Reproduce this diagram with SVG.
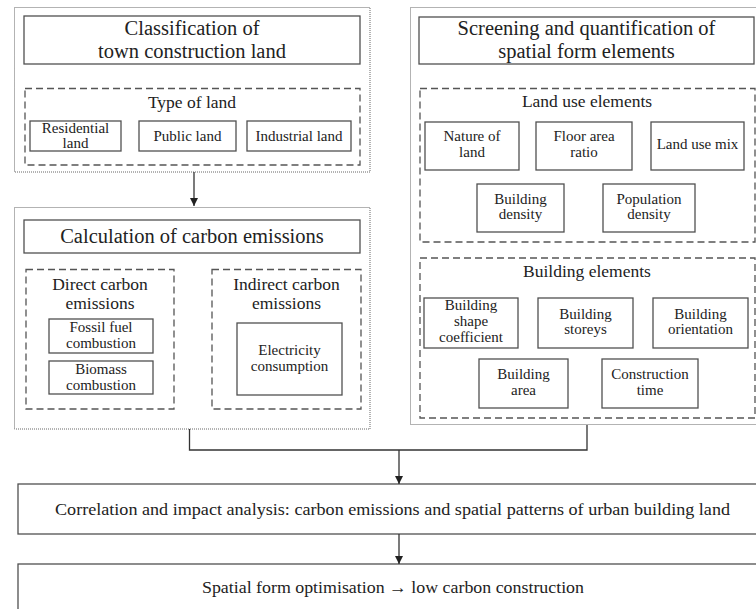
<svg xmlns="http://www.w3.org/2000/svg" width="756" height="609" viewBox="0 0 756 609" font-family="'Liberation Serif', 'DejaVu Serif', serif">
<style>
text{font-family:'Liberation Serif','DejaVu Serif',serif;fill:#222;text-anchor:middle}
.t{font-size:20.5px}
.s{font-size:17.5px}
.b{font-size:15px}
.m{font-size:17px}
.panel{fill:none;stroke:#666;stroke-width:1;stroke-dasharray:1 1}
.box{fill:#fff;stroke:#505050;stroke-width:1.3}
.dash{fill:none;stroke:#555;stroke-width:1.3;stroke-dasharray:7 4}
.conn{fill:none;stroke:#333;stroke-width:1.3}
</style>
<defs>
<marker id="ah" markerUnits="userSpaceOnUse" markerWidth="9" markerHeight="9" refX="8" refY="4" orient="auto">
<path d="M0,0 L8,4 L0,8 z" fill="#222"/>
</marker>
</defs>
<rect width="756" height="609" fill="#fff"/>

<g id="panel-classification">
<rect class="panel" x="14.5" y="7.5" width="355.5" height="164.5"/>
<g id="title-classification">
<rect class="box" x="24" y="16" width="336" height="48"/>
<text class="t" x="192" y="35">Classification of</text>
<text class="t" x="192" y="58">town construction land</text>
</g>
<g id="type-of-land">
<rect class="dash" x="25" y="88.5" width="335" height="76.5"/>
<text class="s" x="192" y="108">Type of land</text>
</g>
<g id="residential-land">
<rect class="box" x="30" y="121" width="91" height="30"/>
<text class="b" x="75.5" y="133">Residential</text>
<text class="b" x="75.5" y="148">land</text>
</g>
<g id="public-land">
<rect class="box" x="139" y="121" width="97" height="30"/>
<text class="b" x="187.5" y="141">Public land</text>
</g>
<g id="industrial-land">
<rect class="box" x="247" y="121" width="104" height="30"/>
<text class="b" x="299" y="141">Industrial land</text>
</g>
</g>

<g id="panel-calculation">
<rect class="panel" x="14.5" y="207.5" width="355.5" height="221.5"/>
<g id="title-calculation">
<rect class="box" x="24" y="220" width="336" height="33"/>
<text class="t" x="192" y="243">Calculation of carbon emissions</text>
</g>
<g id="direct-emissions">
<rect class="dash" x="26" y="269.5" width="148" height="139.5"/>
<text class="s" x="100" y="290">Direct carbon</text>
<text class="s" x="100" y="309">emissions</text>
</g>
<g id="fossil-fuel">
<rect class="box" x="49" y="319" width="104" height="34"/>
<text class="b" x="101" y="332">Fossil fuel</text>
<text class="b" x="101" y="348">combustion</text>
</g>
<g id="biomass">
<rect class="box" x="49" y="361" width="104" height="33"/>
<text class="b" x="101" y="374">Biomass</text>
<text class="b" x="101" y="390">combustion</text>
</g>
<g id="indirect-emissions">
<rect class="dash" x="212" y="269.5" width="149" height="139.5"/>
<text class="s" x="286.5" y="290">Indirect carbon</text>
<text class="s" x="286.5" y="309">emissions</text>
</g>
<g id="electricity">
<rect class="box" x="237" y="323" width="105" height="72"/>
<text class="b" x="289.5" y="355">Electricity</text>
<text class="b" x="289.5" y="371">consumption</text>
</g>
</g>

<g id="panel-screening">
<rect class="panel" x="410.5" y="7.5" width="360" height="417"/>
<g id="title-screening">
<rect class="box" x="419" y="17" width="335" height="47"/>
<text class="t" x="586.5" y="35">Screening and quantification of</text>
<text class="t" x="586.5" y="58">spatial form elements</text>
</g>
<g id="land-use-elements">
<rect class="dash" x="420" y="88.5" width="335" height="153.5"/>
<text class="s" x="587" y="107">Land use elements</text>
</g>
<g id="nature-of-land">
<rect class="box" x="425" y="122" width="94" height="48"/>
<text class="b" x="472" y="141">Nature of</text>
<text class="b" x="472" y="157">land</text>
</g>
<g id="floor-area-ratio">
<rect class="box" x="536" y="122" width="96" height="48"/>
<text class="b" x="584" y="141">Floor area</text>
<text class="b" x="584" y="157">ratio</text>
</g>
<g id="land-use-mix">
<rect class="box" x="651" y="122" width="93" height="48"/>
<text class="b" x="697.5" y="149">Land use mix</text>
</g>
<g id="building-density">
<rect class="box" x="477" y="184" width="87" height="48"/>
<text class="b" x="520.5" y="204">Building</text>
<text class="b" x="520.5" y="219">density</text>
</g>
<g id="population-density">
<rect class="box" x="603" y="184" width="92" height="48"/>
<text class="b" x="649" y="204">Population</text>
<text class="b" x="649" y="219">density</text>
</g>
<g id="building-elements">
<rect class="dash" x="420" y="258" width="335" height="160"/>
<text class="s" x="587" y="277">Building elements</text>
</g>
<g id="building-shape">
<rect class="box" x="424" y="298" width="94" height="50"/>
<text class="b" x="471" y="310">Building</text>
<text class="b" x="471" y="326">shape</text>
<text class="b" x="471" y="341.5">coefficient</text>
</g>
<g id="building-storeys">
<rect class="box" x="538" y="298" width="95" height="50"/>
<text class="b" x="585.5" y="319">Building</text>
<text class="b" x="585.5" y="334">storeys</text>
</g>
<g id="building-orientation">
<rect class="box" x="653" y="298" width="95" height="50"/>
<text class="b" x="700.5" y="319">Building</text>
<text class="b" x="700.5" y="334">orientation</text>
</g>
<g id="building-area">
<rect class="box" x="479" y="359" width="89" height="49"/>
<text class="b" x="523.5" y="379">Building</text>
<text class="b" x="523.5" y="395">area</text>
</g>
<g id="construction-time">
<rect class="box" x="602" y="359" width="96" height="49"/>
<text class="b" x="650" y="379">Construction</text>
<text class="b" x="650" y="395">time</text>
</g>
</g>

<g id="correlation">
<rect class="box" x="18" y="484" width="750" height="50"/>
<text class="m" x="392.5" y="515" textLength="675" lengthAdjust="spacingAndGlyphs">Correlation and impact analysis: carbon emissions and spatial patterns of urban building land</text>
</g>

<g id="optimisation">
<rect class="box" x="18" y="564" width="750" height="60"/>
<text class="m" x="393" y="593" textLength="382" lengthAdjust="spacingAndGlyphs">Spatial form optimisation → low carbon construction</text>
</g>

<g id="connectors">
<line class="conn" x1="194" y1="172" x2="194" y2="206" marker-end="url(#ah)"/>
<polyline class="conn" points="189.5,429 189.5,450 587,450 587,425"/>
<line class="conn" x1="399" y1="450" x2="399" y2="484" marker-end="url(#ah)"/>
<line class="conn" x1="399" y1="534" x2="399" y2="564" marker-end="url(#ah)"/>
</g>
</svg>
